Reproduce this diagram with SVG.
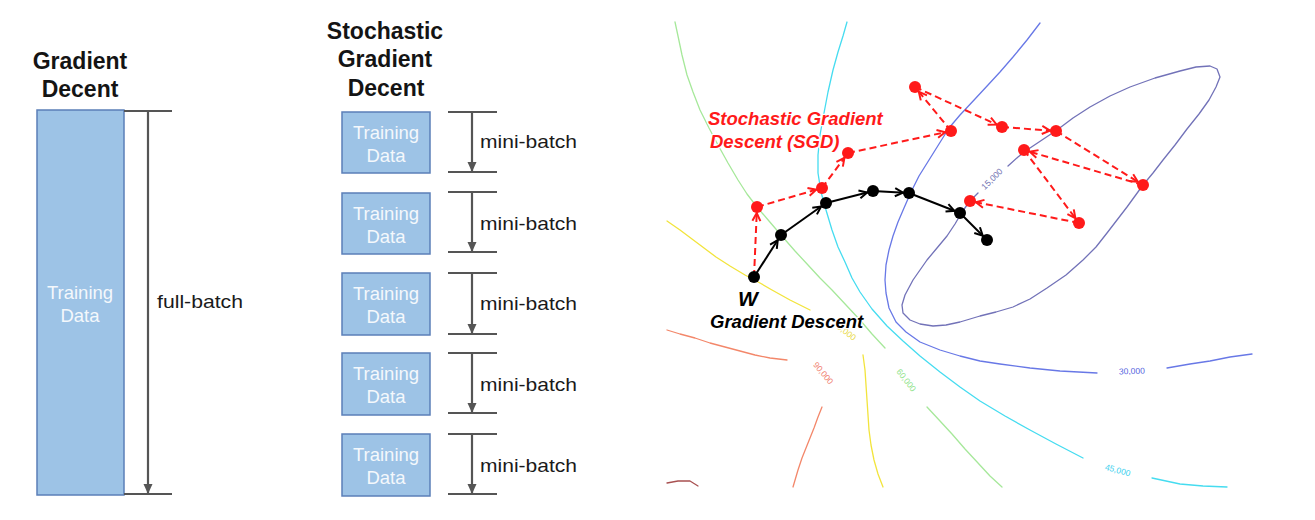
<svg xmlns="http://www.w3.org/2000/svg" width="1315" height="520" viewBox="0 0 1315 520">
<style>
.title{font-family:"Liberation Sans",Arial,sans-serif;font-size:23px;font-weight:bold;fill:#141414;text-anchor:middle}
.box{fill:#9dc3e6;stroke:#5b7fb8;stroke-width:1.5}
.boxt{font-family:"Liberation Sans",Arial,sans-serif;font-size:18.5px;fill:#f4f8fc;text-anchor:middle}
.br{stroke:#555;stroke-width:2.2;fill:none}
.lbl{font-family:"Liberation Sans",Arial,sans-serif;font-size:19px;fill:#1a1a1a}
.ct{fill:none;stroke-width:1.3;stroke-linejoin:round;stroke-linecap:round}
.cl{font-family:"Liberation Sans",Arial,sans-serif;font-size:8.5px;text-anchor:middle}
.red{fill:none;stroke:#ff1a1a;stroke-width:2;stroke-dasharray:7 4}
.blk{fill:none;stroke:#000;stroke-width:2}
.it{font-family:"Liberation Sans",Arial,sans-serif;font-weight:bold;font-style:italic;paint-order:stroke;stroke:#fff;stroke-width:2.5;stroke-linejoin:round}
</style>
<defs>
<marker id="ag" markerUnits="userSpaceOnUse" markerWidth="12" markerHeight="12" refX="10" refY="4.5" orient="auto" overflow="visible"><path d="M0,0 L10,4.5 L0,9 Z" fill="#555"/></marker>
<marker id="ab" markerUnits="userSpaceOnUse" markerWidth="30" markerHeight="20" refX="15" refY="5" orient="auto" overflow="visible"><path d="M1,1 L9,5 L1,9" fill="none" stroke="#000" stroke-width="2"/></marker>
<marker id="ar" markerUnits="userSpaceOnUse" markerWidth="30" markerHeight="20" refX="15" refY="5" orient="auto" overflow="visible"><path d="M1,1 L9,5 L1,9" fill="none" stroke="#ff1a1a" stroke-width="2"/></marker>
</defs>
<rect width="1315" height="520" fill="#fff"/>

<!-- Left: Gradient Descent -->
<g id="gd-title">
<text class="title" x="80" y="69">Gradient</text>
<text class="title" x="80" y="97">Decent</text>
</g>
<g id="gd-data">
<rect class="box" x="37" y="110" width="87" height="385"/>
<text class="boxt" x="80" y="299">Training</text>
<text class="boxt" x="80" y="322">Data</text>
</g>
<g id="gd-bracket">
<line class="br" x1="124" y1="111" x2="172" y2="111"/>
<line class="br" x1="124" y1="494" x2="172" y2="494"/>
<line class="br" x1="148" y1="111" x2="148" y2="494" marker-end="url(#ag)"/>
<text class="lbl" x="157" y="308" textLength="86" lengthAdjust="spacingAndGlyphs">full-batch</text>
</g>

<!-- Middle: SGD -->
<g id="sgd-title">
<text class="title" x="385" y="39">Stochastic</text>
<text class="title" x="385" y="67">Gradient</text>
<text class="title" x="386" y="96">Decent</text>
</g>
<g id="mb1">
<rect class="box" x="342" y="112" width="88" height="61"/>
<text class="boxt" x="386" y="139">Training</text>
<text class="boxt" x="386" y="162">Data</text>
<line class="br" x1="448" y1="112" x2="497" y2="112"/><line class="br" x1="448" y1="172" x2="497" y2="172"/>
<line class="br" x1="472" y1="112" x2="472" y2="172" marker-end="url(#ag)"/>
<text class="lbl" x="480" y="148" textLength="97" lengthAdjust="spacingAndGlyphs">mini-batch</text>
</g>
<g id="mb2">
<rect class="box" x="342" y="193" width="88" height="61"/>
<text class="boxt" x="386" y="220">Training</text>
<text class="boxt" x="386" y="243">Data</text>
<line class="br" x1="448" y1="192" x2="497" y2="192"/><line class="br" x1="448" y1="252" x2="497" y2="252"/>
<line class="br" x1="472" y1="192" x2="472" y2="252" marker-end="url(#ag)"/>
<text class="lbl" x="480" y="230" textLength="97" lengthAdjust="spacingAndGlyphs">mini-batch</text>
</g>
<g id="mb3">
<rect class="box" x="342" y="273" width="88" height="62"/>
<text class="boxt" x="386" y="300">Training</text>
<text class="boxt" x="386" y="323">Data</text>
<line class="br" x1="448" y1="273" x2="497" y2="273"/><line class="br" x1="448" y1="334" x2="497" y2="334"/>
<line class="br" x1="472" y1="273" x2="472" y2="334" marker-end="url(#ag)"/>
<text class="lbl" x="480" y="310" textLength="97" lengthAdjust="spacingAndGlyphs">mini-batch</text>
</g>
<g id="mb4">
<rect class="box" x="342" y="353" width="88" height="62"/>
<text class="boxt" x="386" y="380">Training</text>
<text class="boxt" x="386" y="403">Data</text>
<line class="br" x1="448" y1="353" x2="497" y2="353"/><line class="br" x1="448" y1="413" x2="497" y2="413"/>
<line class="br" x1="472" y1="353" x2="472" y2="413" marker-end="url(#ag)"/>
<text class="lbl" x="480" y="391" textLength="97" lengthAdjust="spacingAndGlyphs">mini-batch</text>
</g>
<g id="mb5">
<rect class="box" x="342" y="434" width="88" height="62"/>
<text class="boxt" x="386" y="461">Training</text>
<text class="boxt" x="386" y="484">Data</text>
<line class="br" x1="448" y1="434" x2="497" y2="434"/><line class="br" x1="448" y1="494" x2="497" y2="494"/>
<line class="br" x1="472" y1="434" x2="472" y2="494" marker-end="url(#ag)"/>
<text class="lbl" x="480" y="472" textLength="97" lengthAdjust="spacingAndGlyphs">mini-batch</text>
</g>

<!-- Right: contour plot -->
<g id="contours">
<path class="ct" stroke="#a6e89a" d="M675,22 L678,36 L682,55 L687,75 L693,92 L700,110 L709,128 L718,145 L728,163 L738,180 L747,194 L757,207 L769,221 L781,235 L795,251 L808,265 L820,278 L832,290 L846,305 L860,320 L872,334 L885,348"/>
<path class="ct" stroke="#a6e89a" d="M927,407 L940,421 L952,434 L965,449 L978,463 L990,476 L1002,487"/>
<path class="ct" stroke="#45dcf0" d="M847,22 L843,36 L838,52 L833,70 L828,92 L824,113 L820,135 L818,155 L818,173 L821,192 L826,210 L832,230 L838,247 L845,262 L852,278 L860,292 L872,309 L887,326 L903,341 L920,356 L940,372 L960,387 L980,401 L1005,416 L1030,430 L1056,444 L1083,458"/>
<path class="ct" stroke="#45dcf0" d="M1152,478 L1166,481 L1180,484 L1203,486 L1227,487"/>
<path class="ct" stroke="#f2e43c" d="M667,221 L680,230 L692,239 L704,248 L716,257 L730,266 L745,275 L760,283 L772,290 L790,300 L810,310"/>
<path class="ct" stroke="#f2e43c" d="M863,355 L865,370 L866,385 L867,400 L868,415 L869,430 L871,445 L874,460 L878,474 L883,487"/>
<path class="ct" stroke="#f3876a" d="M667,330 L680,334 L695,338 L710,343 L725,347 L740,351 L755,355 L770,358 L787,360"/>
<path class="ct" stroke="#f3876a" d="M822,407 L818,417 L814,428 L810,438 L806,448 L802,458 L798,470 L793,487"/>
<path class="ct" stroke="#a85050" d="M667,483 L678,481 L690,481 L698,486"/>
<path class="ct" stroke="#6878e6" d="M1040,23 L1027,40 L1013,57 L1000,72 L988,85 L975,99 L960,115 L949,128 L939,144 L929,160 L919,176 L911,192 L904,208 L898,222 L893,236 L889,250 L886,265 L885,280 L886,293 L889,308 L896,322 L906,332 L920,342 L940,350 L960,356 L980,361 L1000,364 L1030,368 L1060,371 L1097,373"/>
<path class="ct" stroke="#6878e6" d="M1167,368 L1190,364 L1210,361 L1230,357 L1252,354"/>
<path class="ct" stroke="#7272b8" d="M1008,166 L1018,157 L1027,150 L1042,140 L1057,130 L1073,118 L1090,107 L1110,96 L1130,87 L1155,78 L1180,71 L1196,67 L1210,66 L1217,69 L1220,77 L1216,87 L1209,100 L1199,114 L1187,129 L1175,145 L1163,160 L1153,173 L1143,185 L1135,196 L1127,207 L1117,220 L1107,233 L1096,247 L1083,260 L1066,275 L1047,288 L1030,299 L1013,307 L996,312 L980,316 L960,322 L946,325 L933,326 L920,324 L910,320 L903,313 L902,305 L905,295 L913,280 L920,270 L927,260 L937,248 L947,236 L955,224 L962,212 L970,201 L978,193"/>
<text class="cl" fill="#7070b0" transform="translate(994,181) rotate(-45)">15,000</text>
<text class="cl" fill="#5565e0" transform="translate(1132,374) rotate(-2)">30,000</text>
<text class="cl" fill="#3ad0ee" transform="translate(1117,473) rotate(15)">45,000</text>
<text class="cl" fill="#8fe48a" transform="translate(904,382) rotate(52)">60,000</text>
<text class="cl" fill="#e8d840" transform="translate(843,333) rotate(38)">75,000</text>
<text class="cl" fill="#f08070" transform="translate(821,375) rotate(50)">90,000</text>
</g>

<g id="connectors">
<g id="sgd-path">
<line class="red" x1="754" y1="277" x2="757" y2="207" marker-end="url(#ar)"/>
<line class="red" x1="757" y1="207" x2="822" y2="188" marker-end="url(#ar)"/>
<line class="red" x1="822" y1="188" x2="848" y2="153" marker-end="url(#ar)"/>
<line class="red" x1="848" y1="153" x2="951" y2="131" marker-end="url(#ar)"/>
<line class="red" x1="951" y1="131" x2="915" y2="87" marker-end="url(#ar)"/>
<line class="red" x1="915" y1="87" x2="1002" y2="127" marker-end="url(#ar)"/>
<line class="red" x1="1002" y1="127" x2="1056" y2="131" marker-end="url(#ar)"/>
<line class="red" x1="1056" y1="131" x2="1143" y2="185" marker-end="url(#ar)"/>
<line class="red" x1="1143" y1="185" x2="1024" y2="150" marker-end="url(#ar)"/>
<line class="red" x1="1024" y1="150" x2="1079" y2="223" marker-end="url(#ar)"/>
<line class="red" x1="1079" y1="223" x2="970" y2="201" marker-end="url(#ar)"/>
</g>
<g id="gd-path">
<line class="blk" x1="754" y1="277" x2="781" y2="235" marker-end="url(#ab)"/>
<line class="blk" x1="781" y1="235" x2="826" y2="203" marker-end="url(#ab)"/>
<line class="blk" x1="826" y1="203" x2="873" y2="191" marker-end="url(#ab)"/>
<line class="blk" x1="873" y1="191" x2="909" y2="193" marker-end="url(#ab)"/>
<line class="blk" x1="909" y1="193" x2="960" y2="213" marker-end="url(#ab)"/>
<line class="blk" x1="960" y1="213" x2="987" y2="240" marker-end="url(#ab)"/>
</g>
</g>

<g id="sgd-points" fill="#ff1a1a">
<circle cx="757" cy="207" r="6"/><circle cx="822" cy="188" r="6"/><circle cx="848" cy="153" r="6"/>
<circle cx="951" cy="131" r="6"/><circle cx="915" cy="87" r="6"/><circle cx="1002" cy="127" r="6"/>
<circle cx="1056" cy="131" r="6"/><circle cx="1143" cy="185" r="6"/><circle cx="1024" cy="150" r="6"/>
<circle cx="1079" cy="223" r="6"/><circle cx="970" cy="201" r="6"/>
</g>
<g id="gd-points" fill="#000">
<circle cx="754" cy="277" r="6"/><circle cx="781" cy="235" r="6"/><circle cx="826" cy="203" r="6"/>
<circle cx="873" cy="191" r="6"/><circle cx="909" cy="193" r="6"/><circle cx="960" cy="213" r="6"/>
<circle cx="987" cy="240" r="6"/>
</g>

<g id="sgd-label">
<text class="it" fill="#ff1a1a" font-size="18.5" x="708" y="125">Stochastic Gradient</text>
<text class="it" fill="#ff1a1a" font-size="18.5" x="710" y="148">Descent (SGD)</text>
</g>
<g id="gd-label">
<text class="it" fill="#000" font-size="21" x="738" y="306">W</text>
<text class="it" fill="#000" font-size="18.5" x="710" y="328">Gradient Descent</text>
</g>
</svg>
